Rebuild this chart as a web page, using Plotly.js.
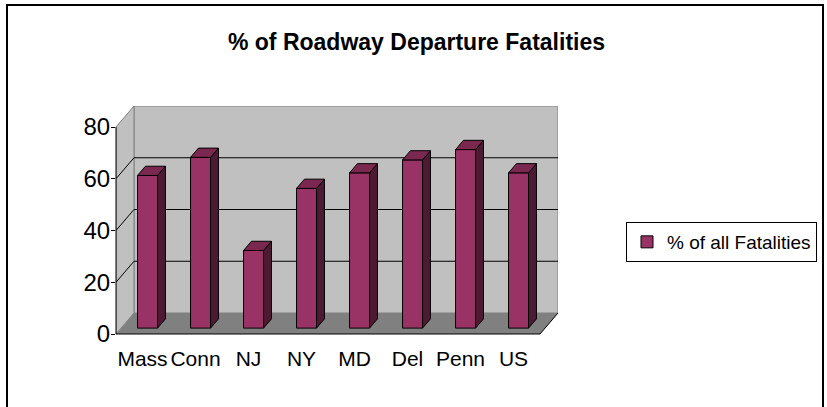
<!DOCTYPE html>
<html><head><meta charset="utf-8">
<script src="https://cdn.plot.ly/plotly-3.0.1.min.js"></script>
<style>html,body{margin:0;padding:0;background:#fff;}#chart{width:827px;height:407px;}</style>
</head><body><div id="chart"></div>
<script>
// ---- data ----
const categories = ['Mass', 'Conn', 'NJ', 'NY', 'MD', 'Del', 'Penn', 'US'];
const values = [59, 66, 30, 54, 60, 65, 69, 60];
const seriesName = '% of all Fatalities';
const yTicks = [0, 20, 40, 60, 80];
const titleText = '% of Roadway Departure Fatalities';

// ---- geometry (pixels) ----
const W = 827, H = 407;
const L = 116, R = 558, T = 106, B = 334;
const PW = R - L, PH = B - T;
const ux = 53;            // px per category on front plane
const uy = 207 / 80;      // px per value unit
const depthX = 18 / ux, depthY = 21 / uy;
const xMin = -0.5, xMax = xMin + PW / ux;
const yMax = PH / uy;
const nCat = categories.length;
const xEnd = nCat - 0.5;
const yTop = yTicks[yTicks.length - 1];
const fFront = 0.28, fBack = 0.72;
const barW = 20 / ux;

const FONT = "'Liberation Sans', Arial, sans-serif";

const idx = categories.map((c, i) => i);
const offX = fFront * depthX, offY = fFront * depthY;
const dX = (fBack - fFront) * depthX, dY = (fBack - fFront) * depthY;

// side and top faces
const sideX = [], sideY = [], topX = [], topY = [];
values.forEach((v, i) => {
  const x0 = i - barW / 2 + offX, x1 = x0 + barW;
  const yb = offY, yt = offY + v;
  sideX.push(x1, x1 + dX, x1 + dX, x1, x1, null);
  sideY.push(yb, yb + dY, yt + dY, yt, yb, null);
  topX.push(x0, x0 + dX, x1 + dX, x1, x0, null);
  topY.push(yt, yt + dY, yt + dY, yt, yt, null);
});

const traces = [
  {
    type: 'bar', name: seriesName,
    x: idx.map(i => i + offX), y: values, base: offY, width: barW,
    marker: {color: '#993366', line: {color: '#000', width: 1}},
    hoverinfo: 'skip', showlegend: true
  },
  {
    type: 'scatter', mode: 'lines', x: sideX, y: sideY, fill: 'toself',
    fillcolor: '#4d1a33', line: {color: '#000', width: 1},
    hoverinfo: 'skip', showlegend: false
  },
  {
    type: 'scatter', mode: 'lines', x: topX, y: topY, fill: 'toself',
    fillcolor: '#7a2850', line: {color: '#000', width: 1},
    hoverinfo: 'skip', showlegend: false
  }
];

const shapes = [];
// back wall
shapes.push({type: 'rect', xref: 'x', yref: 'y', layer: 'below',
  x0: xMin + depthX, x1: xEnd + depthX, y0: depthY, y1: yTop + depthY,
  fillcolor: '#c0c0c0', line: {color: '#808080', width: 1}});
// left wall
shapes.push({type: 'path', xref: 'x', yref: 'y', layer: 'below',
  path: `M${xMin},0 L${xMin + depthX},${depthY} L${xMin + depthX},${yTop + depthY} L${xMin},${yTop} Z`,
  fillcolor: '#c0c0c0', line: {color: '#808080', width: 1}});
// floor
shapes.push({type: 'path', xref: 'x', yref: 'y', layer: 'below',
  path: `M${xMin},0 L${xEnd},0 L${xEnd + depthX},${depthY} L${xMin + depthX},${depthY} Z`,
  fillcolor: '#808080', line: {width: 0}});
// gridlines on walls
yTicks.filter(v => v > 0 && v < yTop).forEach(v => {
  shapes.push({type: 'line', xref: 'x', yref: 'y', layer: 'below',
    x0: xMin + depthX, x1: xEnd + depthX, y0: v + depthY, y1: v + depthY,
    line: {color: '#000', width: 1}});
  shapes.push({type: 'line', xref: 'x', yref: 'y', layer: 'below',
    x0: xMin, x1: xMin + depthX, y0: v, y1: v + depthY,
    line: {color: '#000', width: 1}});
});
// floor front-right edge
shapes.push({type: 'line', xref: 'x', yref: 'y', layer: 'above',
  x0: xEnd, x1: xEnd + depthX, y0: 0, y1: depthY, line: {color: '#000', width: 1}});
// front axis lines
shapes.push({type: 'line', xref: 'paper', yref: 'y', layer: 'above',
  x0: 0, x1: 0, y0: 0, y1: yTop, line: {color: '#000', width: 1}});
shapes.push({type: 'line', xref: 'x', yref: 'paper', layer: 'above',
  x0: xMin, x1: xEnd, y0: 0, y1: 0, line: {color: '#000', width: 1}});
// outer chart border
shapes.push({type: 'rect', xref: 'paper', yref: 'paper', layer: 'above',
  x0: (7 - L) / PW, x1: (823 - L) / PW, y0: (B - 412) / PH, y1: (B - 5) / PH,
  line: {color: '#000', width: 2}, fillcolor: 'rgba(0,0,0,0)'});

const layout = {
  width: W, height: H,
  margin: {l: L, r: W - R, t: T, b: H - B, pad: 0, autoexpand: false},
  paper_bgcolor: '#fff', plot_bgcolor: '#fff',
  font: {family: FONT, color: '#000'},
  title: {
    text: '<b>' + titleText + '</b>',
    font: {family: FONT, size: 23, color: '#000'},
    xref: 'container', x: 416.5 / W, xanchor: 'center',
    yref: 'container', y: 1 - 42 / H, yanchor: 'middle'
  },
  xaxis: {
    range: [xMin, xMax], tickmode: 'array', tickvals: idx, ticktext: categories,
    tickangle: 0,
    ticks: 'outside', ticklen: 6, tickcolor: 'rgba(0,0,0,0)',
    showgrid: false, zeroline: false, showline: false,
    tickfont: {family: FONT, size: 21, color: '#000'}, fixedrange: true
  },
  xaxis2: {
    overlaying: 'x', anchor: 'y', side: 'bottom', range: [xMin, xMax],
    tickmode: 'array', tickvals: [...idx.map(i => i - 0.5), xEnd],
    ticks: 'outside', ticklen: 6, tickcolor: '#000', showticklabels: false,
    showgrid: false, zeroline: false, showline: false, fixedrange: true
  },
  yaxis: {
    range: [0, yMax], tickmode: 'array', tickvals: yTicks,
    ticks: 'outside', ticklen: 4, tickcolor: '#000',
    ticklabelstandoff: -4,
    showgrid: false, zeroline: false, showline: false,
    tickfont: {family: FONT, size: 24, color: '#000'}, fixedrange: true
  },
  showlegend: true,
  legend: {
    x: (626 - L) / PW, y: (B - 222) / PH, xanchor: 'left', yanchor: 'top',
    bgcolor: '#fff', bordercolor: '#000', borderwidth: 1,
    font: {family: FONT, size: 19, color: '#000'}
  },
  shapes: shapes,
  bargap: 0
};

Plotly.newPlot('chart', traces, layout, {displayModeBar: false, staticPlot: true});
</script>
</body></html>
